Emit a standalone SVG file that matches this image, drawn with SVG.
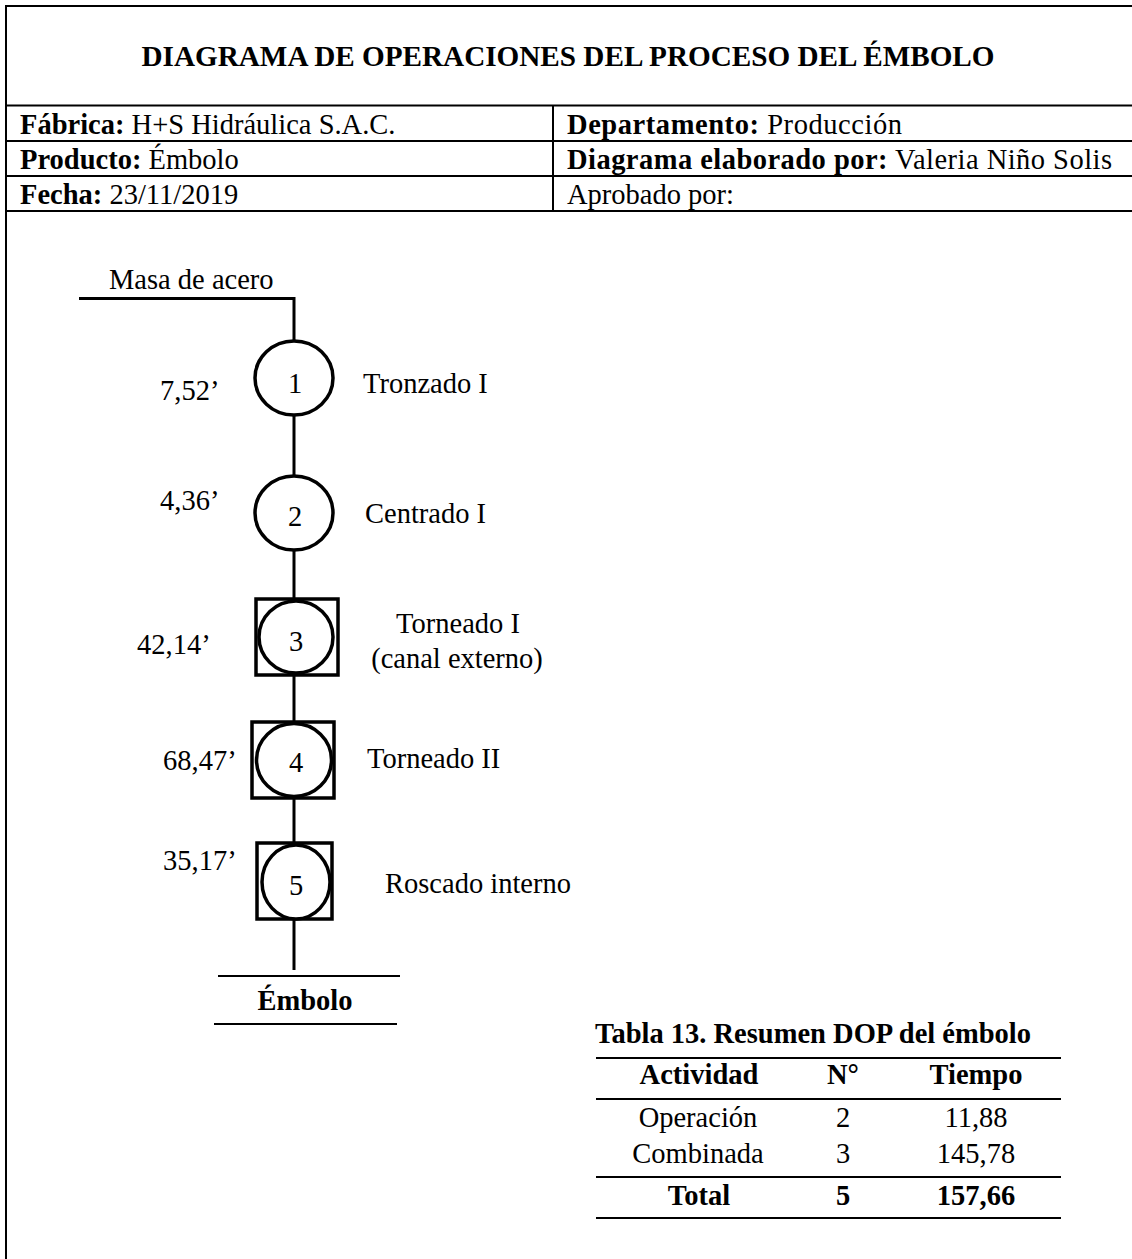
<svg xmlns="http://www.w3.org/2000/svg" width="1132" height="1259" viewBox="0 0 1132 1259">
  <style>
    text { font-family: "Liberation Serif", "Times New Roman", serif; font-size: 28.5px; fill: #000; }
    .b { font-weight: bold; }
    .mid { text-anchor: middle; }
    .grid { stroke: #000; stroke-width: 2; fill: none; }
    .flow { stroke: #000; stroke-width: 3; fill: none; }
    .op { stroke: #000; stroke-width: 3.5; fill: #fff; }
    .rule { stroke: #000; stroke-width: 2; }
  </style>

  <rect width="1132" height="1259" fill="#fff"/>

  <!-- header frame -->
  <g id="header">
    <path class="grid" d="M6 1259 V6 H1140" stroke-width="2.5"/>
    <line class="grid" x1="6" y1="105.5" x2="1132" y2="105.5"/>
    <line class="grid" x1="6" y1="141" x2="1132" y2="141"/>
    <line class="grid" x1="6" y1="176" x2="1132" y2="176"/>
    <line class="grid" x1="6" y1="211" x2="1132" y2="211"/>
    <line class="grid" x1="553" y1="105.5" x2="553" y2="211"/>
    <text class="b mid" x="568" y="66" style="font-size:29.2px">DIAGRAMA DE OPERACIONES DEL PROCESO DEL ÉMBOLO</text>
    <text x="20" y="134"><tspan class="b">Fábrica:</tspan> H+S Hidráulica S.A.C.</text>
    <text x="567" y="134" textLength="335" lengthAdjust="spacing"><tspan class="b">Departamento:</tspan> Producción</text>
    <text x="20" y="169"><tspan class="b">Producto:</tspan> Émbolo</text>
    <text x="567" y="169" textLength="545" lengthAdjust="spacing"><tspan class="b">Diagrama elaborado por:</tspan> Valeria Niño Solis</text>
    <text x="20" y="204"><tspan class="b">Fecha:</tspan> 23/11/2019</text>
    <text x="567" y="204">Aprobado por:</text>
  </g>

  <!-- connectors -->
  <g id="connectors">
    <path class="flow" d="M79 298.5 H294 V342"/>
    <line class="flow" x1="294" y1="414" x2="294" y2="477"/>
    <line class="flow" x1="294" y1="550" x2="294" y2="600"/>
    <line class="flow" x1="294" y1="675" x2="294" y2="723"/>
    <line class="flow" x1="294" y1="798" x2="294" y2="844"/>
    <line class="flow" x1="294" y1="919" x2="294" y2="970"/>
  </g>

  <g id="input">
    <text x="109" y="289">Masa de acero</text>
  </g>

  <g id="op1">
    <ellipse class="op" cx="294" cy="378" rx="39" ry="37"/>
    <text class="mid" x="295" y="393">1</text>
    <text x="160" y="400">7,52’</text>
    <text x="363" y="393">Tronzado I</text>
  </g>

  <g id="op2">
    <ellipse class="op" cx="294" cy="513" rx="39" ry="37"/>
    <text class="mid" x="295" y="526">2</text>
    <text x="160" y="510">4,36’</text>
    <text x="365" y="523">Centrado I</text>
  </g>

  <g id="op3">
    <rect class="op" x="256" y="599" width="82" height="76"/>
    <ellipse class="op" cx="296" cy="637" rx="37" ry="36"/>
    <text class="mid" x="296" y="651">3</text>
    <text x="137" y="654">42,14’</text>
    <text class="mid" x="458" y="633">Torneado I</text>
    <text class="mid" x="457" y="668">(canal externo)</text>
  </g>

  <g id="op4">
    <rect class="op" x="252" y="722" width="82" height="76"/>
    <ellipse class="op" cx="294" cy="760" rx="37.5" ry="36.5"/>
    <text class="mid" x="296" y="772">4</text>
    <text x="163" y="770">68,47’</text>
    <text x="367" y="768">Torneado II</text>
  </g>

  <g id="op5">
    <rect class="op" x="257" y="843" width="75" height="76"/>
    <ellipse class="op" cx="296" cy="882" rx="34" ry="37"/>
    <text class="mid" x="296" y="895">5</text>
    <text x="163" y="870">35,17’</text>
    <text x="385" y="893">Roscado interno</text>
  </g>

  <g id="output">
    <line class="rule" x1="218" y1="976" x2="400" y2="976" stroke-width="1.5"/>
    <text class="b mid" x="305" y="1010">Émbolo</text>
    <line class="rule" x1="214" y1="1024" x2="397" y2="1024" stroke-width="1.5"/>
  </g>

  <!-- summary table -->
  <g id="summary">
    <text class="b mid" x="813" y="1043">Tabla 13. Resumen DOP del émbolo</text>
    <line class="rule" x1="596" y1="1058" x2="1061" y2="1058"/>
    <line class="rule" x1="596" y1="1099" x2="1061" y2="1099"/>
    <line class="rule" x1="596" y1="1177" x2="1061" y2="1177"/>
    <line class="rule" x1="596" y1="1218" x2="1061" y2="1218"/>
    <text class="b mid" x="699" y="1084">Actividad</text>
    <text class="b mid" x="843" y="1084">N°</text>
    <text class="b mid" x="976" y="1084">Tiempo</text>
    <text class="mid" x="698" y="1127">Operación</text>
    <text class="mid" x="843" y="1127">2</text>
    <text class="mid" x="976" y="1127">11,88</text>
    <text class="mid" x="698" y="1163">Combinada</text>
    <text class="mid" x="843" y="1163">3</text>
    <text class="mid" x="976" y="1163">145,78</text>
    <text class="b mid" x="699" y="1205">Total</text>
    <text class="b mid" x="843" y="1205">5</text>
    <text class="b mid" x="976" y="1205">157,66</text>
  </g>
</svg>
